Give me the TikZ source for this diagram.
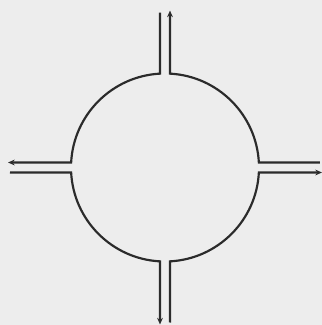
\documentclass[tikz,border=0pt]{standalone}
\usetikzlibrary{arrows.meta}
\definecolor{inkgray}{HTML}{2B2B2B}
\definecolor{paperbg}{HTML}{EDEDED}
\tikzset{
  wall/.style={draw=inkgray, line width=0.65mm, line join=miter},
  outflow/.style={wall, {Stealth[length=2mm, width=1.7mm]}-},
}
\begin{document}
\begin{tikzpicture}[x=0.3mm, y=0.3mm]
  % page
  \fill[paperbg] (0,0) rectangle (322,325);
  \useasboundingbox (0,0) rectangle (322,325);
  \coordinate (c) at (165,157.5);
  % one quarter of the vessel with its outlet, turned four times
  \foreach \a in {0,-90,-180,-270}{
    \draw[outflow, shift={(c)}, rotate=\a]
      (5,157) -- (5,93.87) arc[start angle=86.95, end angle=3.05, radius=94] -- (155,5);
  }
\end{tikzpicture}
\end{document}
